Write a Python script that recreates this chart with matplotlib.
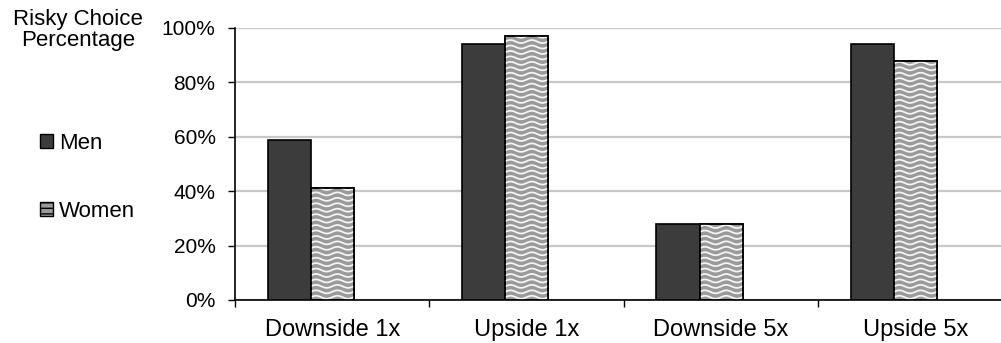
import numpy as np
import matplotlib
matplotlib.use("Agg")
import matplotlib.pyplot as plt
from matplotlib.patches import Patch
from matplotlib.ticker import PercentFormatter

categories = ["Downside 1x", "Upside 1x", "Downside 5x", "Upside 5x"]
men = [59, 94, 28, 94]
women = [41, 97, 28, 88]

plt.rcParams['font.family'] = ['Liberation Sans', 'DejaVu Sans']

fig = plt.figure(figsize=(10.01, 3.43), dpi=100)
ax = fig.add_axes([0.2348, 0.1254, 0.777, 0.793])

x = np.arange(len(categories))
w = 0.222

men_bars = ax.bar(x - w, men, w, color="#3c3c3c", edgecolor="black", linewidth=1.2, zorder=3)
women_bars = ax.bar(x, women, w, color="#9a9a9a", edgecolor="black", linewidth=1.2, zorder=3)

# wavy fill for women bars, clipped to each bar
for b in women_bars:
    x0, bw, h = b.get_x(), b.get_width(), b.get_height()
    xs = np.linspace(x0, x0 + bw, 80)
    for y0 in np.arange(1.0, h + 2, 2.0):
        ys = y0 + 0.55 * np.sin((xs - x0) / 0.11 * 2 * np.pi)
        ln, = ax.plot(xs, ys, color="#f4f4f4", linewidth=1.3, zorder=3.5)
        ln.set_clip_path(b)
    # outline again on top of the waves
    ax.bar(b.get_x() + bw / 2, h, bw, fill=False, edgecolor="black", linewidth=1.2, zorder=4)

ax.set_xlim(-0.5, 3.5)
ax.set_ylim(0, 100)
ax.set_yticks(np.arange(0, 101, 20))
ax.yaxis.set_major_formatter(PercentFormatter(decimals=0))
ax.yaxis.grid(True, color="#c8c8c8", linewidth=1.6, zorder=0)
ax.set_axisbelow(True)

ax.set_xticks(x)
ax.set_xticklabels(categories)
ax.set_xticks(np.arange(-0.5, 3.6, 1), minor=True)
ax.tick_params(axis="x", which="major", length=0, pad=14, labelsize=17)
ax.tick_params(axis="x", which="minor", length=5, width=1, direction="out")
ax.tick_params(axis="y", length=5, width=1, direction="out", labelsize=15, pad=9)

for s in ["top", "right"]:
    ax.spines[s].set_visible(False)
ax.spines["left"].set_linewidth(1.2)
ax.spines["bottom"].set_linewidth(1.2)

fig.text(0.078, 0.975, "Risky Choice\nPercentage", ha="center", va="top", fontsize=16, linespacing=1.05)

handles = [Patch(facecolor="#3c3c3c", edgecolor="black"),
           Patch(facecolor="#9a9a9a", edgecolor="black", hatch="---")]
fig.legend(handles, ["Men", "Women"], loc="upper left", bbox_to_anchor=(0.029, 0.645),
           frameon=False, fontsize=16, handlelength=0.6, handleheight=0.6,
           handletextpad=0.25, labelspacing=2.1, borderpad=0)

fig.savefig("out.png", dpi=100)
